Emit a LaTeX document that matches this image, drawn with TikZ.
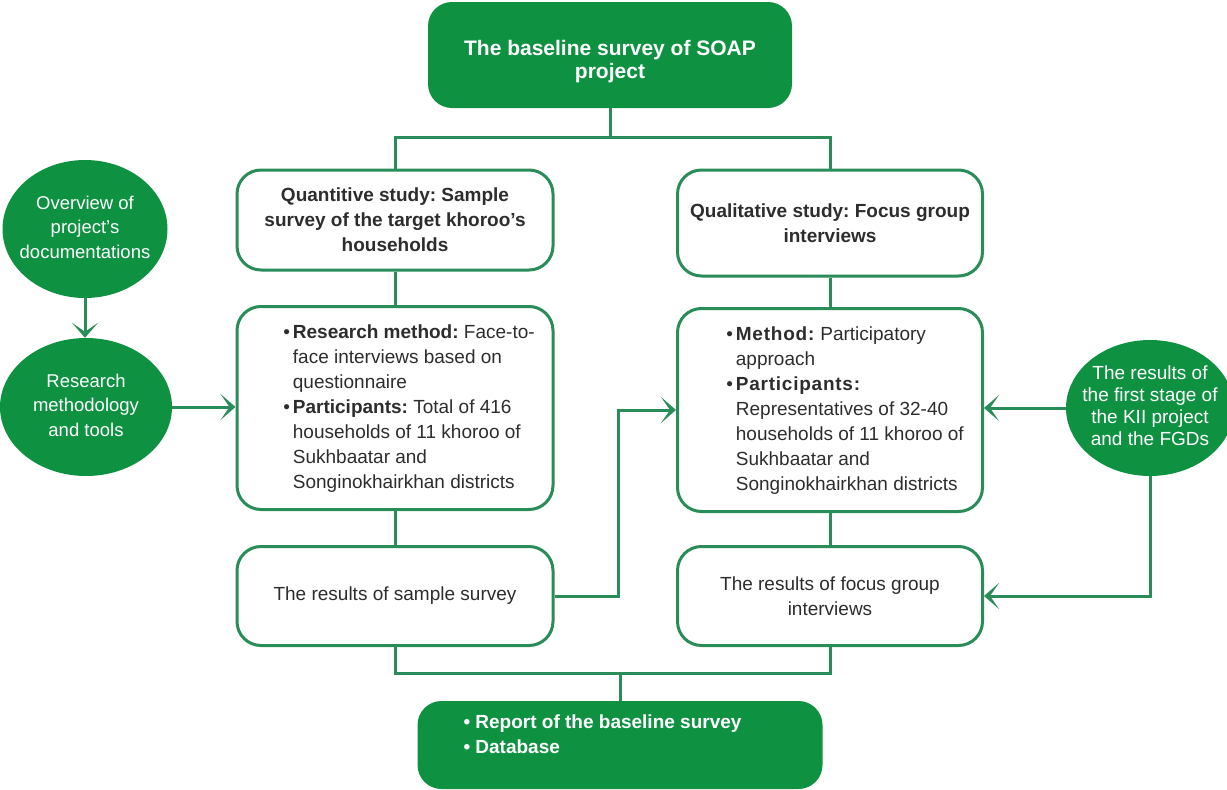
\documentclass[tikz,border=0pt]{standalone}
\usepackage{fontspec}
\setmainfont{Liberation Sans}
\usetikzlibrary{arrows.meta,shapes.geometric}
\definecolor{soapgreen}{RGB}{14,146,66}
\definecolor{soapline}{RGB}{42,140,88}
\definecolor{soaptext}{RGB}{45,45,45}
\newcommand{\blobtext}[1]{\makebox[0pt]{\begin{tabular}{@{}c@{}}#1\end{tabular}}}
\newcommand{\spaced}[1]{\textbf{\addfontfeature{LetterSpace=4}#1}}
\frenchspacing

\begin{document}
\begin{tikzpicture}[x=1pt,y=-1pt]
  \tikzstyle{every node}=[inner sep=0pt, text=soaptext, font=\fontsize{19}{25}\selectfont]
  \tikzstyle{box}=[draw=soapline, line width=3pt, rounded corners=24pt, fill=white, align=center, minimum width=316pt]
  \tikzstyle{fullbox}=[fill=soapgreen, rounded corners=24pt, text=white, align=center]
  \tikzstyle{blob}=[ellipse, fill=soapgreen, text=white, font=\fontsize{18.5}{24.5}\selectfont]
  \tikzstyle{link}=[draw=soapline, line width=3pt]
  \tikzstyle{arrow}=[link, -{Stealth[length=15pt,width=26pt,inset=9pt]}]
  \useasboundingbox (0,0) rectangle (1227,790);

  \node (top) [fullbox, minimum width=364pt, minimum height=106pt,
    label={[yshift=-7pt, text=white, align=center, font=\fontsize{21}{23}\selectfont\bfseries]center:The baseline survey of SOAP\\project}] at (610,55) {};

  \node (qnt) [box, minimum height=100pt, font=\fontsize{19}{25}\selectfont\bfseries] at (395,220) {Quantitive study: Sample\\survey of the target khoroo's\\households};
  \node (qlt) [box, minimum width=305pt, minimum height=106pt, font=\fontsize{19}{25}\selectfont\bfseries] at (830,223) {Qualitative study: Focus group\\interviews};

  \node (qnt2) [box, minimum height=203pt] at (395,408) {\begin{tabular}{@{\hspace{28pt}}l@{\hspace{3pt}}l@{}}
      \textbullet & \textbf{Research method:} Face-to-\\
      & face interviews based on\\
      & questionnaire\\
      \textbullet & \textbf{Participants:} Total of 416\\
      & households of 11 khoroo of\\
      & Sukhbaatar and\\
      & Songinokhairkhan districts
    \end{tabular}};
  \node (qlt2) [box, minimum width=305pt, minimum height=203pt] at (830,410) {\begin{tabular}{@{\hspace{30pt}}l@{\hspace{3pt}}l@{}}
      \textbullet & \spaced{Method:} Participatory\\
      & approach\\
      \textbullet & \spaced{Participants:}\\
      & Representatives of 32-40\\
      & households of 11 khoroo of\\
      & Sukhbaatar and\\
      & Songinokhairkhan districts
    \end{tabular}};

  \node (qnt3) [box, minimum height=99pt] at (395,596) {The results of sample survey};
  \node (qlt3) [box, minimum width=305pt, minimum height=99pt] at (830,596) {The results of focus group\\interviews};

  \node (res) [fullbox, minimum width=405pt, minimum height=88pt, font=\fontsize{19}{25}\selectfont\bfseries] at (620,745) {\parbox[c][60pt][t]{313pt}{\textbullet\ Report of the baseline survey\\\textbullet\ Database}};

  % side circles
  \node (docs) [blob, minimum width=165pt, minimum height=138pt] at (85,229) {\blobtext{Overview of\\project's\\documentations}};
  \node (meth) [blob, minimum width=172pt, minimum height=138pt] at (86,407) {\blobtext{Research\\methodology\\and tools}};
  \node (kii) [blob, minimum width=168pt, minimum height=136pt, font=\fontsize{19}{22}\selectfont] at (1150,408) {\blobtext{The results of\\the first stage of\\the KII project\\and the FGDs}};

  % connectors
  \coordinate (split) at (610,137);
  \coordinate (join) at (620,673);
  \draw[link] (top.south) -- (split);
  \draw[link] (qnt.north) |- (split) -| (qlt.north);
  \draw[link] (qnt.south) -- (qnt2.north);
  \draw[link] (qlt.south) -- (qlt2.north);
  \draw[link] (qnt2.south) -- (qnt3.north);
  \draw[link] (qlt2.south) -- (qlt3.north);
  \draw[link] (qnt3.south) |- (join) -| (qlt3.south);
  \draw[link] (join) -- (res.north);
  \draw[arrow] (docs.south) -- (docs.south |- meth.north);
  \draw[arrow] (meth.east) -- (meth.east -| qnt2.west);
  \draw[arrow] (qnt3.east) -- ++(64,0) |- (qlt2.west);
  \draw[arrow] (kii.west) -- (kii.west -| qlt2.east);
  \draw[arrow] (kii.south) |- (qlt3.east);
\end{tikzpicture}
\end{document}
